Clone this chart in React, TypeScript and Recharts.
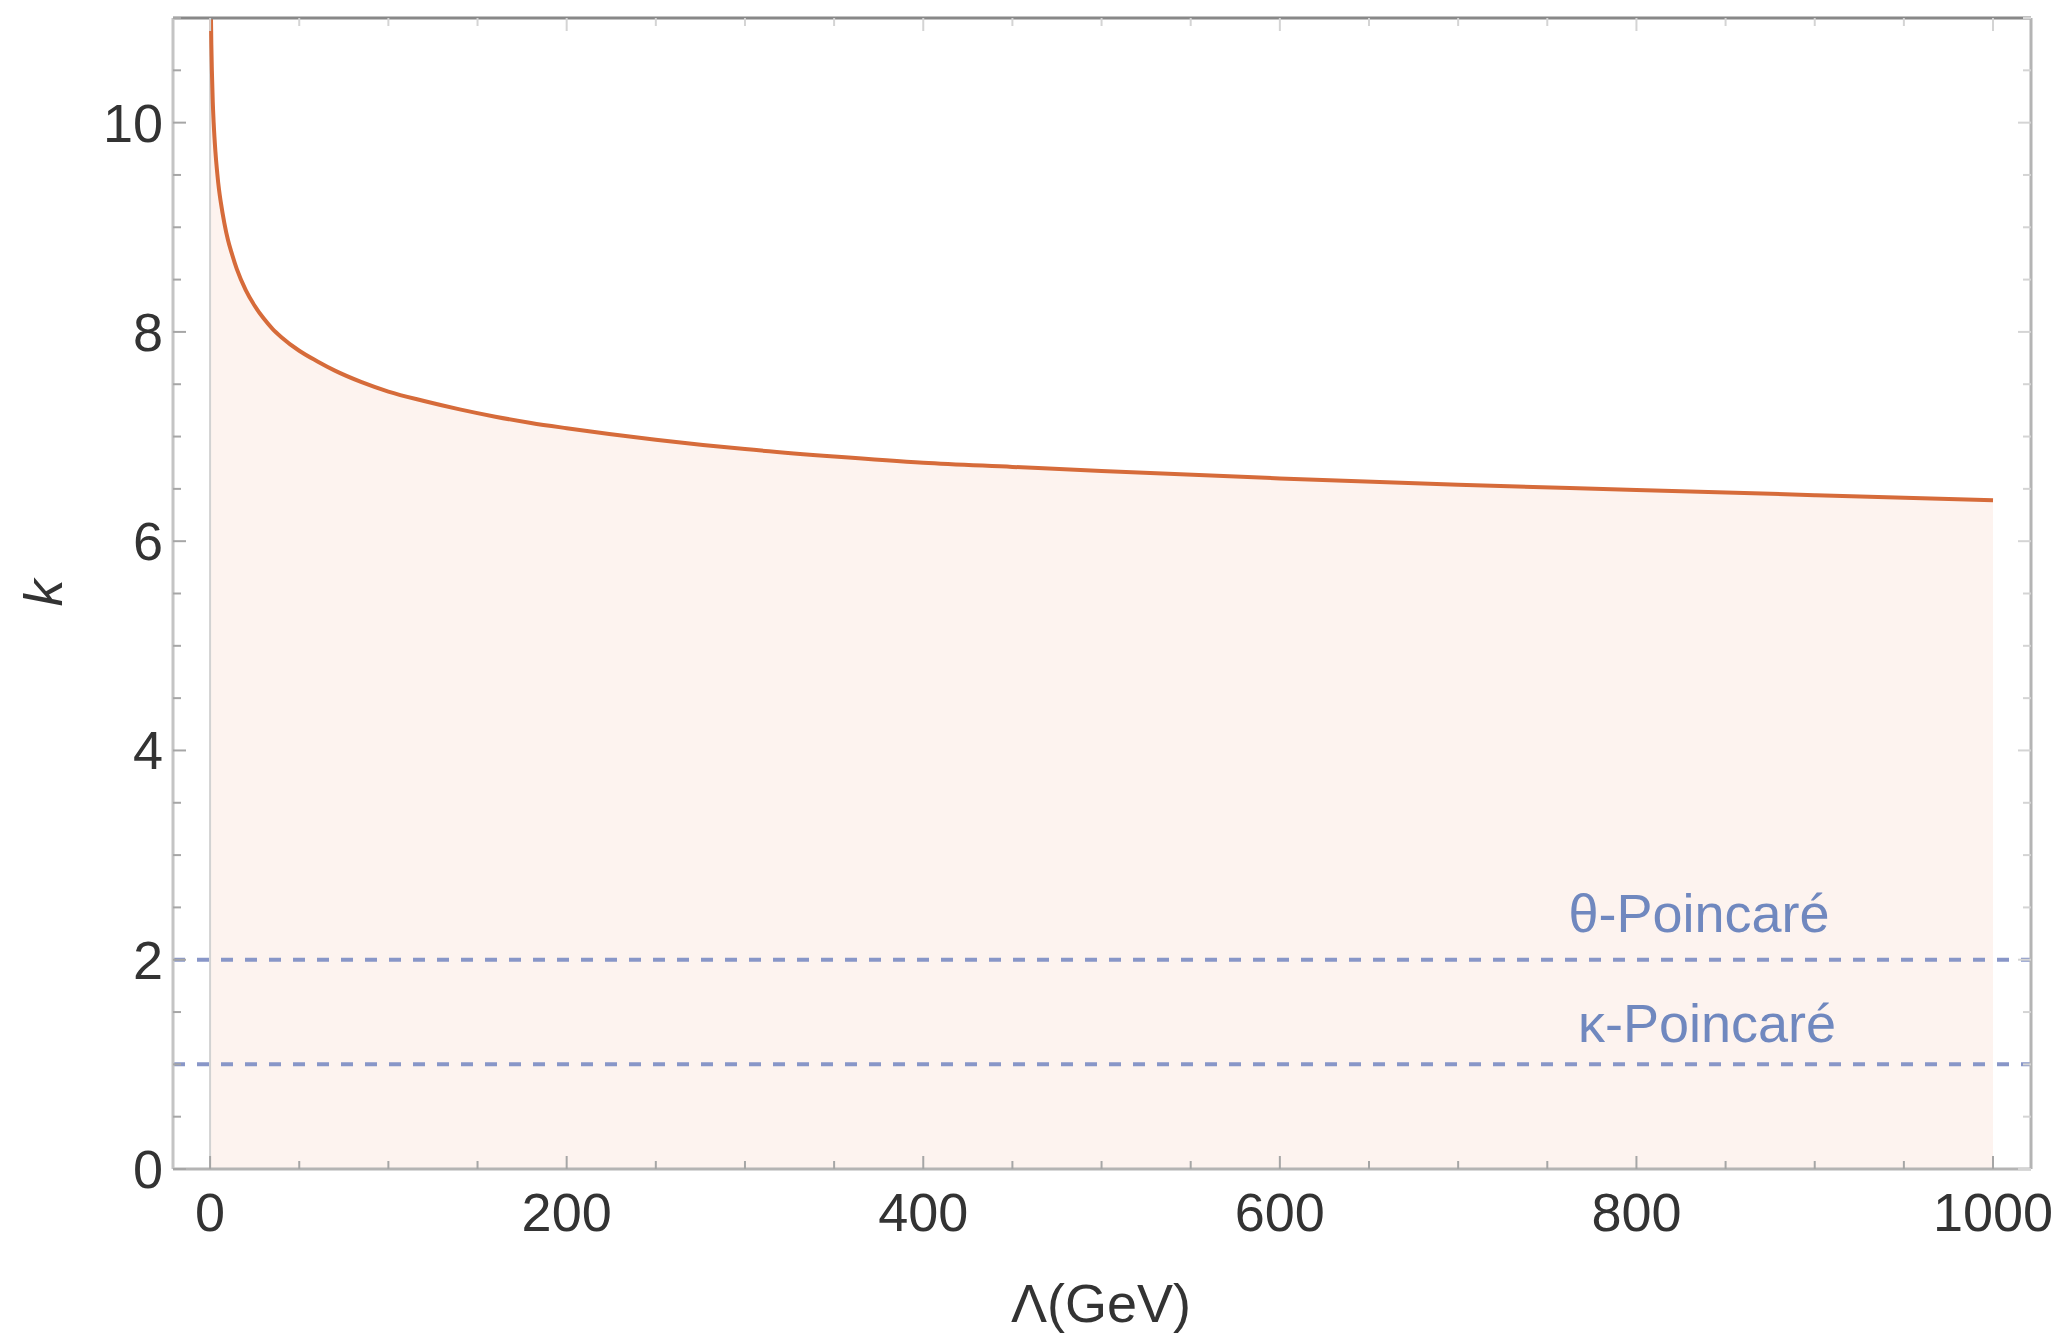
import { ComposedChart, Area, Line, XAxis, YAxis, ReferenceLine } from 'recharts';

// Λ (GeV) sample points
const lambdaValues = [
  0.3, 0.5, 0.7, 1, 1.5, 2, 3, 4, 5, 6, 8, 10, 12, 15, 20, 25, 30, 35, 40, 50, 60, 70, 85, 100,
  120, 140, 160, 180, 200, 250, 300, 350, 400, 450, 500, 600, 700, 800, 900, 1000
];
// k at each Λ
const kValues = [
  11.4, 11.0, 10.75, 10.5, 10.2, 10.0, 9.72, 9.52, 9.36, 9.24, 9.04, 8.88, 8.76, 8.6, 8.4, 8.25, 8.13, 8.03, 7.95, 7.82, 7.72, 7.63, 7.52, 7.43,
  7.34, 7.26, 7.19, 7.13, 7.08, 6.97, 6.88, 6.81, 6.75, 6.71, 6.67, 6.6, 6.54, 6.49, 6.44, 6.39
];

const xTicks = [0, 50, 100, 150, 200, 250, 300, 350, 400, 450, 500, 550, 600, 650, 700, 750, 800, 850, 900, 950, 1000];
const yTicks = [0, 0.5, 1, 1.5, 2, 2.5, 3, 3.5, 4, 4.5, 5, 5.5, 6, 6.5, 7, 7.5, 8, 8.5, 9, 9.5, 10, 10.5, 11];
const xDomain = [-20.8, 1021.3];
const yDomain = [0, 11];

const thetaLevel = 2;
const kappaLevel = 1;
const thetaLabel = 'θ-Poincaré';
const kappaLabel = 'κ-Poincaré';

const data = lambdaValues.map((l, i) => ({ lambda: l, k: kValues[i] }));

const FONT = '"Liberation Sans", Arial, sans-serif';
const TEXT = '#333333';
const FRAME = '#b4b4b4';
const DASH = '#8896c8';
const LABEL_BLUE = '#7088bf';

const BottomTick = ({ x, y, payload }: any) => {
  const major = payload.value % 200 === 0;
  return (
    <g>
      <line x1={x} y1={y} x2={x} y2={y - (major ? 13 : 8)} stroke="#a6a6a6" strokeWidth={2} />
      {major && (
        <text x={x} y={y + 62} textAnchor="middle" fontSize={54} fill={TEXT} fontFamily={FONT}>
          {payload.value}
        </text>
      )}
    </g>
  );
};

const LeftTick = ({ x, y, payload }: any) => {
  const major = payload.value % 2 === 0;
  return (
    <g>
      <line x1={x} y1={y} x2={x + (major ? 13 : 8)} y2={y} stroke="#a6a6a6" strokeWidth={2} />
      {major && (
        <text x={x - 10} y={y + 19} textAnchor="end" fontSize={54} fill={TEXT} fontFamily={FONT}>
          {payload.value}
        </text>
      )}
    </g>
  );
};

const TopTick = ({ x, y, payload }: any) => {
  const major = payload.value % 200 === 0;
  return <line x1={x} y1={y} x2={x} y2={y + (major ? 13 : 8)} stroke="#d4d4d4" strokeWidth={2} />;
};

const RightTick = ({ x, y, payload }: any) => {
  const major = payload.value % 2 === 0;
  return <line x1={x} y1={y} x2={x - (major ? 13 : 8)} y2={y} stroke="#d4d4d4" strokeWidth={2} />;
};

const lineLabel = (text: string, dx: number, dy: number) => (props: any) => {
  const vb = props.viewBox;
  return (
    <text
      x={vb.x + vb.width - dx}
      y={vb.y - dy}
      textAnchor="middle"
      fontSize={54}
      fill={LABEL_BLUE}
      fontFamily={FONT}
    >
      {text}
    </text>
  );
};

export default function App() {
  return (
    <div style={{ position: 'absolute', left: 0, top: 0, width: 2069, height: 1338, background: '#fff' }}>
      <ComposedChart width={2069} height={1338} data={data} margin={{ top: 0, right: 0, bottom: 0, left: 0 }}>
        <XAxis
          xAxisId="b"
          dataKey="lambda"
          type="number"
          domain={xDomain}
          allowDataOverflow
          ticks={xTicks}
          interval={0}
          height={169}
          tickSize={0}
          tickMargin={0}
          tickLine={false}
          axisLine={{ stroke: FRAME, strokeWidth: 3 }}
          tick={<BottomTick />}
          label={() => (
            <text x={1101} y={1322} textAnchor="middle" fontSize={54} fill={TEXT} fontFamily={FONT}>
              Λ(GeV)
            </text>
          )}
        />
        <XAxis
          xAxisId="t"
          dataKey="lambda"
          orientation="top"
          type="number"
          domain={xDomain}
          allowDataOverflow
          ticks={xTicks}
          interval={0}
          height={18}
          tickSize={0}
          tickMargin={0}
          tickLine={false}
          axisLine={{ stroke: '#888888', strokeWidth: 3 }}
          tick={<TopTick />}
        />
        <YAxis
          yAxisId="l"
          type="number"
          domain={yDomain}
          allowDataOverflow
          ticks={yTicks}
          interval={0}
          width={173}
          tickSize={0}
          tickMargin={0}
          tickLine={false}
          axisLine={{ stroke: '#c4c4c4', strokeWidth: 3 }}
          tick={<LeftTick />}
          label={() => (
            <text
              x={62}
              y={593}
              textAnchor="middle"
              fontSize={54}
              fontStyle="italic"
              fill={TEXT}
              fontFamily={FONT}
              transform="rotate(-90, 62, 593)"
            >
              k
            </text>
          )}
        />
        <YAxis
          yAxisId="r"
          orientation="right"
          type="number"
          domain={yDomain}
          allowDataOverflow
          ticks={yTicks}
          interval={0}
          width={38}
          tickSize={0}
          tickMargin={0}
          tickLine={false}
          axisLine={{ stroke: FRAME, strokeWidth: 3 }}
          tick={<RightTick />}
        />
        <Area
          xAxisId="b"
          yAxisId="l"
          type="monotone"
          dataKey="k"
          stroke="none"
          fill="#fdf3ef"
          fillOpacity={1}
          isAnimationActive={false}
        />
        <ReferenceLine xAxisId="b" yAxisId="l" x={0} stroke="#d2d2d2" strokeWidth={2} />
        <ReferenceLine
          xAxisId="b"
          yAxisId="l"
          y={thetaLevel}
          stroke={DASH}
          strokeWidth={4}
          strokeDasharray="12 12"
          label={lineLabel(thetaLabel, 332, 28)}
        />
        <ReferenceLine
          xAxisId="b"
          yAxisId="l"
          y={kappaLevel}
          stroke={DASH}
          strokeWidth={4}
          strokeDasharray="12 12"
          label={lineLabel(kappaLabel, 324, 22)}
        />
        <Line
          xAxisId="b"
          yAxisId="l"
          type="monotone"
          dataKey="k"
          stroke="#d66b3a"
          strokeWidth={4}
          dot={false}
          activeDot={false}
          isAnimationActive={false}
        />
      </ComposedChart>
    </div>
  );
}
